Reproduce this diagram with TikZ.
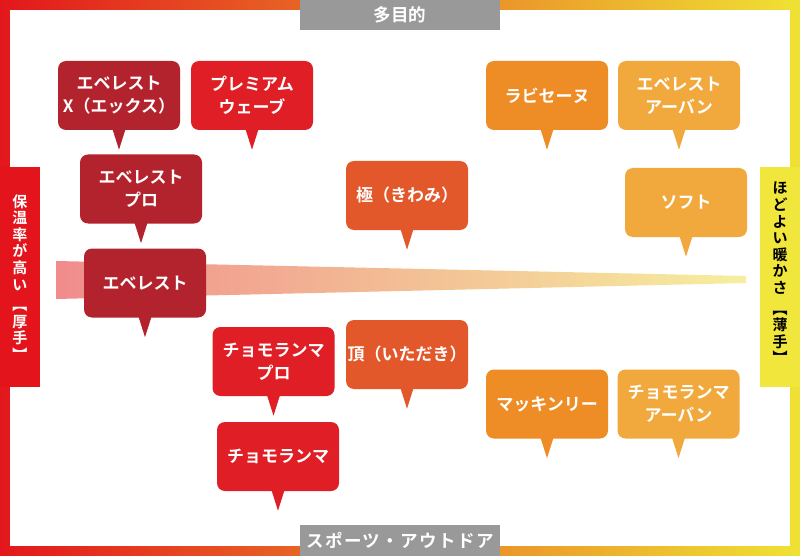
\documentclass[tikz,border=0pt]{standalone}
\usepackage{fontspec}
\setmainfont{Noto Sans CJK JP}[BoldFont={Noto Sans CJK JP Bold}]
\definecolor{cDark}{HTML}{B3232D}
\definecolor{cRed}{HTML}{E01E26}
\definecolor{cOrR}{HTML}{E3582A}
\definecolor{cOr}{HTML}{EE8D25}
\definecolor{cLt}{HTML}{F1A93E}
\definecolor{fRed}{HTML}{E3171C}
\definecolor{fMid}{HTML}{EC941F}
\definecolor{fYel}{HTML}{EFE233}
\definecolor{cGray}{HTML}{999999}
\definecolor{lbRed}{HTML}{E3141B}
\definecolor{lbYel}{HTML}{F0E63C}
\definecolor{wL}{HTML}{F08C8C}
\definecolor{wM}{HTML}{F4C28A}
\definecolor{wR}{HTML}{F6EF9E}
\newcommand\bubfont{\fontsize{17}{23}\selectfont\bfseries}
\newcommand\sidefont{\fontsize{15}{16.6}\selectfont\bfseries}
\newcommand\bubtip[2]{\fill[#2] ([xshift=-6.5pt,yshift=1pt]#1.south) -- ([yshift=-19.5pt]#1.south) -- ([xshift=6.5pt,yshift=1pt]#1.south) -- cycle;}
\begin{document}
\begin{tikzpicture}[x=1pt,y=-1pt,
  bub/.style={rounded corners=8pt, minimum width=122pt, minimum height=69pt, inner sep=0pt, text=white, align=center, font=\bubfont},
  tagbox/.style={inner sep=0pt, text=white, font=\fontsize{17.5}{20}\selectfont\bfseries},
  sidetext/.style={inner sep=0pt, align=center, font=\sidefont}]
\useasboundingbox (0,0) rectangle (800,556);
% frame
\shade[left color=fRed, middle color=fMid, right color=fYel] (0,0) rectangle (800,556);
\fill[white] (10,10) rectangle (790,546);
% wedge
\shade[left color=wL, middle color=wM, right color=wR] (56,261) -- (746,276) -- (746,283) -- (56,299) -- cycle;
% top / bottom tags
\node[tagbox, fill=cGray, minimum width=200pt, minimum height=30pt] (toptag) at (400,15) {多目的};
\node[tagbox, fill=cGray, minimum width=200pt, minimum height=31pt] (bottag) at (400,540.5) {\addfontfeatures{LetterSpace=8}スポーツ・アウトドア};
% side tags
\node[fill=lbRed, minimum width=40pt, minimum height=220pt, inner sep=0pt] (leftbox) at (20,277) {};
\node[sidetext, text=white] (lefttag) at (20,277.5) {保\\温\\率\\が\\高\\い\\[4pt]︻\\厚\\手\\︼};
\node[fill=lbYel, minimum width=40pt, minimum height=220pt, inner sep=0pt] (rightbox) at (780,277) {};
\node[sidetext, text=black] (righttag) at (780,273) {ほ\\ど\\よ\\い\\暖\\か\\さ\\[4pt]︻\\薄\\手\\︼};
% bubbles
\node[bub, fill=cDark] (evx) at (119,95.5) {エベレスト\\X（エックス）};
\bubtip{evx}{cDark}
\node[bub, fill=cRed] (pw) at (252,95.5) {プレミアム\\ウェーブ};
\bubtip{pw}{cRed}
\node[bub, fill=cDark] (evp) at (141,189) {エベレスト\\プロ};
\bubtip{evp}{cDark}
\node[bub, fill=cDark] (ev) at (145,283) {エベレスト};
\bubtip{ev}{cDark}
\node[bub, fill=cOrR] (kiwami) at (407,195.5) {極（きわみ）};
\bubtip{kiwami}{cOrR}
\node[bub, fill=cOrR] (itadaki) at (407,354.5) {頂（いただき）};
\bubtip{itadaki}{cOrR}
\node[bub, fill=cRed] (chp) at (273.5,361.5) {チョモランマ\\プロ};
\bubtip{chp}{cRed}
\node[bub, fill=cRed] (ch) at (278,456.5) {チョモランマ};
\bubtip{ch}{cRed}
\node[bub, fill=cOr] (lab) at (547,95.5) {ラビセーヌ};
\bubtip{lab}{cOr}
\node[bub, fill=cLt] (evu) at (679,95.5) {エベレスト\\アーバン};
\bubtip{evu}{cLt}
\node[bub, fill=cLt] (soft) at (686,202.5) {ソフト};
\bubtip{soft}{cLt}
\node[bub, fill=cOr] (mck) at (547,404) {マッキンリー};
\bubtip{mck}{cOr}
\node[bub, fill=cLt] (chu) at (678.5,404) {チョモランマ\\アーバン};
\bubtip{chu}{cLt}
\end{tikzpicture}
\end{document}
